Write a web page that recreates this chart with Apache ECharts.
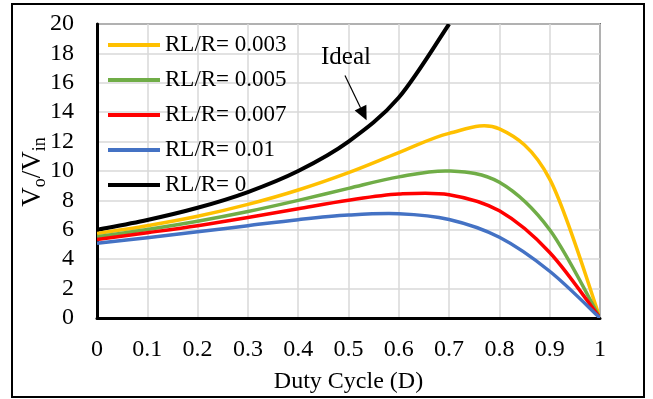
<!DOCTYPE html>
<html>
<head>
<meta charset="utf-8">
<script src="https://cdn.jsdelivr.net/npm/echarts@6/dist/echarts.min.js"></script>
<style>
  html, body { margin: 0; padding: 0; background: #fff; }
  #chart { width: 653px; height: 399px; }
</style>
</head>
<body>
<div id="chart"></div>
<script>
// Duty cycle samples (x axis)
const dutyCycle = [0, 0.1, 0.2, 0.3, 0.4, 0.5, 0.6, 0.7, 0.8, 0.9, 1];

// Voltage gain Vo/Vin for each inductor-resistance ratio
const gainIdeal = [6, 6.67, 7.5, 8.57, 10, 12, 15, 20];
const gain003 = [5.75, 6.28, 6.92, 7.73, 8.71, 9.89, 11.25, 12.56, 12.86, 9.45, 0];
const gain005 = [5.52, 6.02, 6.58, 7.24, 8.0, 8.82, 9.6, 10.0, 9.23, 6.0, 0];
const gain007 = [5.34, 5.8, 6.28, 6.83, 7.43, 8.01, 8.43, 8.39, 7.29, 4.46, 0];
const gain010 = [5.09, 5.46, 5.86, 6.28, 6.69, 7.0, 7.09, 6.7, 5.49, 3.18, 0];

const seriesNames = ['RL/R= 0.003', 'RL/R= 0.005', 'RL/R= 0.007', 'RL/R= 0.01', 'RL/R= 0'];
const seriesColors = ['#FFC000', '#70AD47', '#FF0000', '#4472C4', '#000000'];

// Annotation anchor points in data space
const idealLabelAt = [0.495, 17.75];
const arrowFrom = [0.493, 16.5];
const arrowTo = [0.536, 13.45];

const FONT = '"Liberation Serif", "Times New Roman", serif';

function pairs(values) {
  return values.map((v, i) => [dutyCycle[i], v]);
}

// Smoothed curve through the points (cubic Bezier, neighbour-based tangents)
function smoothPath(pts) {
  const n = pts.length;
  const at = i => pts[Math.max(0, Math.min(n - 1, i))];
  let d = 'M' + pts[0][0] + ' ' + pts[0][1];
  for (let i = 0; i < n - 1; i++) {
    const p0 = at(i - 1), p1 = at(i), p2 = at(i + 1), p3 = at(i + 2);
    const c1x = p1[0] + (p2[0] - p0[0]) / 6, c1y = p1[1] + (p2[1] - p0[1]) / 6;
    const c2x = p2[0] - (p3[0] - p1[0]) / 6, c2y = p2[1] - (p3[1] - p1[1]) / 6;
    d += 'C' + c1x + ' ' + c1y + ' ' + c2x + ' ' + c2y + ' ' + p2[0] + ' ' + p2[1];
  }
  return d;
}

const chart = echarts.init(document.getElementById('chart'), null, { renderer: 'canvas' });

function curveSeries(name, values, color, width) {
  const data = pairs(values);
  return {
    name: name,
    type: 'custom',
    coordinateSystem: 'cartesian2d',
    clip: true,
    data: data,
    itemStyle: { color: color },
    encode: { x: 0, y: 1 },
    silent: true,
    animation: false,
    renderItem: function (params, api) {
      if (params.dataIndex !== 0) return null;
      const pts = data.map(d => api.coord(d));
      return {
        type: 'path',
        shape: { pathData: smoothPath(pts) },
        style: { fill: 'none', stroke: color, lineWidth: width, lineJoin: 'round' }
      };
    }
  };
}

const option = {
  animation: false,
  backgroundColor: '#ffffff',
  grid: {
    left: 97, top: 24, width: 503, height: 294.5,
    show: true, borderColor: '#000', borderWidth: 1.5, backgroundColor: 'transparent'
  },
  legend: {
    orient: 'vertical',
    left: 103, top: 27,
    icon: 'rect',
    itemWidth: 52, itemHeight: 4,
    itemGap: 9,
    data: seriesNames.map((n, i) => ({ name: n, itemStyle: { color: seriesColors[i] } })),
    textStyle: { fontFamily: FONT, fontSize: 23, color: '#000', lineHeight: 26 }
  },
  xAxis: {
    type: 'value',
    min: 0, max: 1, interval: 0.1,
    name: 'Duty Cycle (D)',
    nameLocation: 'middle',
    nameGap: 52,
    nameTextStyle: { fontFamily: FONT, fontSize: 24, color: '#000' },
    axisLine: { show: true, onZero: false, lineStyle: { color: '#000', width: 3 } },
    axisTick: { show: false },
    axisLabel: {
      margin: 20, fontFamily: FONT, fontSize: 24, color: '#000',
      formatter: v => String(Math.round(v * 10) / 10)
    },
    splitLine: { show: true, lineStyle: { color: '#d9d9d9', width: 1.5 } }
  },
  yAxis: {
    type: 'value',
    min: 0, max: 20, interval: 2,
    axisLine: { show: true, onZero: false, lineStyle: { color: '#000', width: 3 } },
    axisTick: { show: false },
    axisLabel: { margin: 23, fontFamily: FONT, fontSize: 24, color: '#000' },
    splitLine: { show: true, lineStyle: { color: '#d9d9d9', width: 1.5 } }
  },
  series: [
    curveSeries(seriesNames[4], gainIdeal, seriesColors[4], 4),
    curveSeries(seriesNames[0], gain003, seriesColors[0], 3.5),
    curveSeries(seriesNames[1], gain005, seriesColors[1], 3.5),
    curveSeries(seriesNames[2], gain007, seriesColors[2], 3.5),
    curveSeries(seriesNames[3], gain010, seriesColors[3], 3.5)
  ]
};

chart.setOption(option);

// Outer frame, y-axis title, "Ideal" callout and its arrow
function drawOverlay() {
  const p = c => chart.convertToPixel({ gridIndex: 0 }, c);
  const label = p(idealLabelAt);
  const from = p(arrowFrom);
  const to = p(arrowTo);
  const yMid = p([0, 10]);
  const ang = Math.atan2(to[1] - from[1], to[0] - from[0]);
  const headLen = 14, headHalf = 6.5;
  const bx = to[0] - headLen * Math.cos(ang), by = to[1] - headLen * Math.sin(ang);
  const nx = -Math.sin(ang), ny = Math.cos(ang);
  chart.setOption({
    graphic: [
      {
        type: 'rect', silent: true,
        shape: { x: 12, y: 4, width: 632, height: 393 },
        style: { fill: 'none', stroke: '#000', lineWidth: 2 }
      },
      {
        type: 'text', silent: true,
        x: yMid[0] - 64, y: yMid[1] + 1, rotation: Math.PI / 2,
        style: {
          text: '{v|V}{s|o}{v|/V}{s|in}',
          align: 'center', verticalAlign: 'middle',
          rich: {
            v: { fontFamily: FONT, fontSize: 27, fill: '#000', lineHeight: 32 },
            s: { fontFamily: FONT, fontSize: 18, fill: '#000', lineHeight: 30, verticalAlign: 'bottom' }
          }
        }
      },
      {
        type: 'text', silent: true, x: label[0], y: label[1],
        style: { text: 'Ideal', font: '25px ' + FONT, fill: '#000', align: 'center', verticalAlign: 'middle' }
      },
      {
        type: 'line', silent: true,
        shape: { x1: from[0], y1: from[1], x2: bx, y2: by },
        style: { stroke: '#000', lineWidth: 1.2 }
      },
      {
        type: 'polygon', silent: true,
        shape: { points: [[to[0], to[1]], [bx + nx * headHalf, by + ny * headHalf], [bx - nx * headHalf, by - ny * headHalf]] },
        style: { fill: '#000' }
      }
    ]
  });
}
drawOverlay();
</script>
</body>
</html>
